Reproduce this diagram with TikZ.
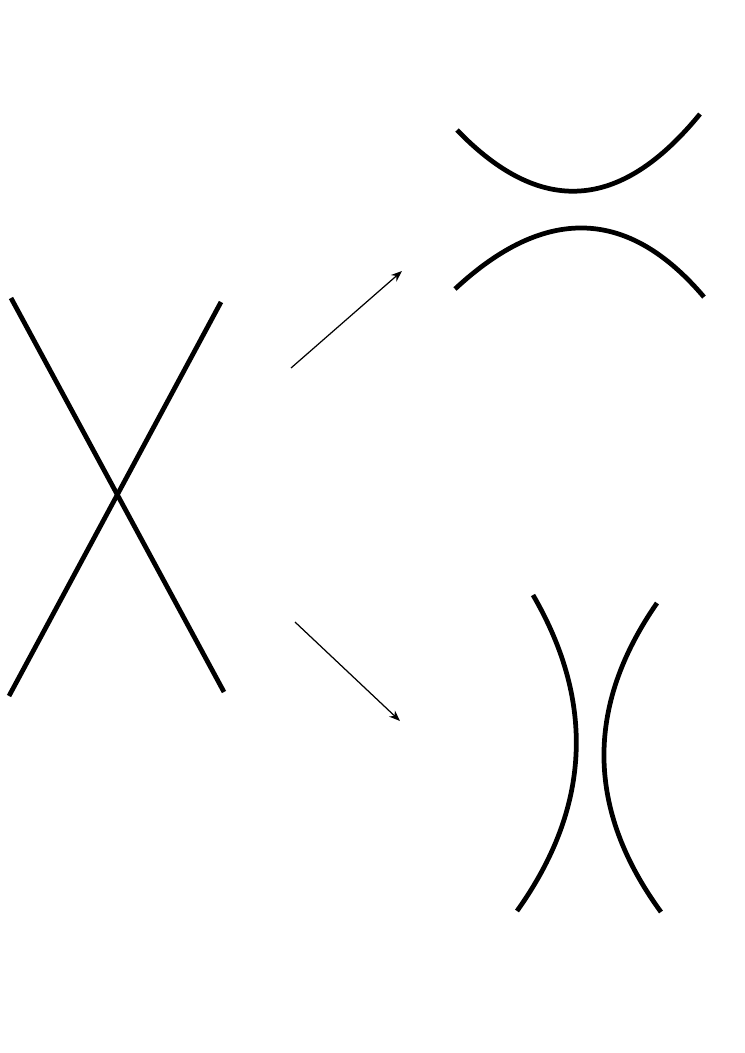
\documentclass[tikz,border=0pt]{standalone}
\usetikzlibrary{arrows.meta}
\begin{document}
\begin{tikzpicture}[x=0.01cm,y=-0.01cm,
  strand/.style={line width=1.35pt, line cap=butt},
  move/.style={line width=0.35pt, -{Stealth[length=1.1mm,width=0.85mm]}}]
\useasboundingbox (0,0) rectangle (745,1053);
% crossing
\coordinate (a1) at (11,298); \coordinate (a2) at (224,692);
\coordinate (b1) at (221,302); \coordinate (b2) at (9,696);
\draw[strand] (a1) -- (a2);
\draw[strand] (b1) -- (b2);
% arrows
\coordinate (u1) at (291,368); \coordinate (u2) at (402,271);
\coordinate (d1) at (295,622); \coordinate (d2) at (400,721);
\draw[move] (u1) -- (u2);
\draw[move] (d1) -- (d2);
% horizontal smoothing
\draw[strand] (457,130) .. controls (540,216) and (620,212) .. (700,114);
\draw[strand] (455,289) .. controls (545.3,205) and (628.3,207.7) .. (704,297);
% vertical smoothing
\draw[strand] (533,595) .. controls (595.7,703) and (590.3,808.3) .. (517,911);
\draw[strand] (657,603) .. controls (585,706.7) and (586.3,809.7) .. (661,912);
\end{tikzpicture}
\end{document}
